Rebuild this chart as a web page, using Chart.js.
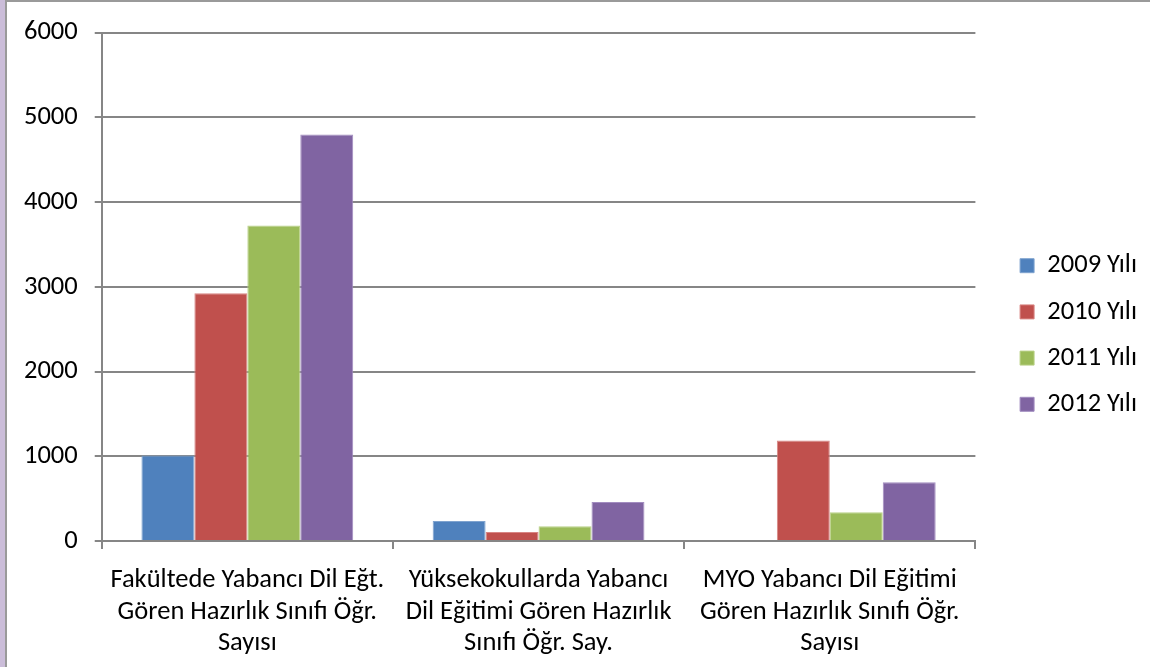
<!DOCTYPE html>
<html>
<head>
<meta charset="utf-8">
<script src="https://cdn.jsdelivr.net/npm/chart.js@4"></script>
<style>
  html, body { margin: 0; padding: 0; background: #fff; }
  #wrap { position: relative; width: 1150px; height: 667px; overflow: hidden; }
  #chart { position: absolute; left: 0; top: 0; }
  .strip { position: absolute; left: 0; top: 0; width: 5px; height: 667px; background: #cbbdd9; }
  .edgeL { position: absolute; left: 5px; top: 0; width: 2px; height: 667px; background: #9a9a9a; }
  .edgeT { position: absolute; left: 5px; top: 0; width: 1145px; height: 2px; background: #9a9a9a; }
</style>
</head>
<body>
<div id="wrap">
  <canvas id="chart" width="1150" height="667"></canvas>
  <div class="strip"></div>
  <div class="edgeL"></div>
  <div class="edgeT"></div>
</div>
<script>
const categories = [
  ["Fakültede Yabancı Dil Eğt.", "Gören Hazırlık Sınıfı Öğr.", "Sayısı"],
  ["Yüksekokullarda Yabancı", "Dil Eğitimi Gören Hazırlık", "Sınıfı Öğr. Say."],
  ["MYO Yabancı Dil Eğitimi", "Gören Hazırlık Sınıfı Öğr.", "Sayısı"]
];

const seriesNames = ["2009 Yılı", "2010 Yılı", "2011 Yılı", "2012 Yılı"];
const values2009 = [1010, 235, 0];
const values2010 = [2925, 105, 1185];
const values2011 = [3725, 175, 340];
const values2012 = [4800, 460, 695];

const yTicks = [0, 1000, 2000, 3000, 4000, 5000, 6000];

const colors = ["#4f81bd", "#c0504d", "#9bbb59", "#8064a2"];
const borders = ["#7fa3cf", "#d88583", "#b9d187", "#a28cc0"];

const allValues = [values2009, values2010, values2011, values2012];
const font = { family: "Carlito, Calibri, 'Open Sans', sans-serif", size: 26.5, lineHeight: 1.19 };

const datasets = allValues.map((vals, i) => ({
  label: seriesNames[i],
  data: vals,
  backgroundColor: colors[i],
  borderColor: borders[i],
  borderWidth: 1,
  barPercentage: 1,
  categoryPercentage: 4 / 5.5
}));

new Chart(document.getElementById("chart"), {
  type: "bar",
  data: { labels: categories, datasets: datasets },
  options: {
    responsive: false,
    animation: false,
    layout: { padding: { left: 7, top: 11, right: 3, bottom: 8 } },
    plugins: {
      tooltip: { enabled: false },
      legend: {
        position: "right",
        labels: {
          color: "#000",
          font: font,
          boxWidth: 14,
          boxHeight: 14,
          padding: 19.7
        }
      }
    },
    scales: {
      x: {
        grid: {
          drawOnChartArea: false,
          color: "#868686",
          lineWidth: 2,
          tickLength: 8
        },
        border: { color: "#868686", width: 2 },
        ticks: { color: "#000", font: font, padding: 16, maxRotation: 0 },
        afterFit: s => { s.height = 118; }
      },
      y: {
        min: 0,
        max: 6000,
        afterBuildTicks: axis => { axis.ticks = yTicks.map(v => ({ value: v })); },
        grid: { color: "#868686", lineWidth: 2, tickLength: 7 },
        border: { color: "#868686", width: 2 },
        ticks: { color: "#000", font: font, padding: 17, callback: v => String(v) }
      },
      // empty strip that keeps the legend away from the plot
      gap: {
        type: "linear",
        position: "right",
        grid: { display: false },
        border: { display: false },
        ticks: { display: false },
        afterFit: s => { s.width = 25; }
      }
    }
  }
});
</script>
</body>
</html>
